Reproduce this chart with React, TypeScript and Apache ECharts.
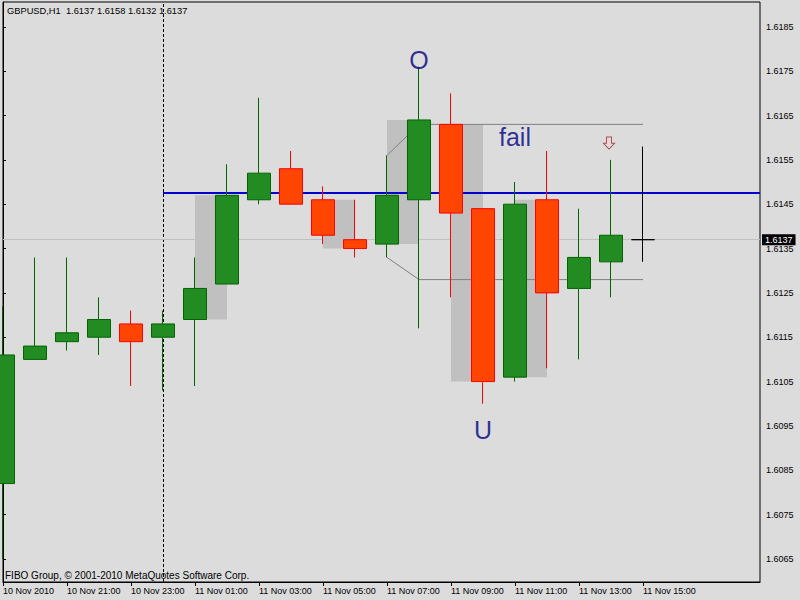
import React, { useEffect, useRef } from "react";
import * as echarts from "echarts";

// ---- Data (GBPUSD, H1, 10 Nov 19:00 .. 11 Nov 15:00) ----
const opens = [1.6082, 1.6110, 1.6114, 1.6115, 1.6118, 1.6115, 1.6119, 1.6127, 1.6146, 1.6153, 1.6146, 1.6137, 1.6136, 1.6146, 1.6163, 1.6144, 1.6106, 1.6146, 1.6126, 1.6132, 1.6137];
const highs = [1.6122, 1.6133, 1.6133, 1.6124, 1.6121, 1.6121, 1.6133, 1.6154, 1.6169, 1.6157, 1.6149, 1.6146, 1.6156, 1.6176, 1.6170, 1.6144, 1.6150, 1.6157, 1.6144, 1.6155, 1.6158];
const lows = [1.6065, 1.6110, 1.6112, 1.6111, 1.6104, 1.6103, 1.6104, 1.6127, 1.6145, 1.6145, 1.6136, 1.6133, 1.6133, 1.6117, 1.6124, 1.6100, 1.6105, 1.6108, 1.6110, 1.6124, 1.6132];
const closes = [1.6111, 1.6113, 1.6116, 1.6119, 1.6114, 1.6118, 1.6126, 1.6147, 1.6152, 1.6145, 1.6138, 1.6135, 1.6147, 1.6164, 1.6143, 1.6105, 1.6145, 1.6125, 1.6133, 1.6138, 1.6137];

// x tick positions (bar index) and labels
const xTickIndex = [0, 2, 4, 6, 8, 10, 12, 14, 16, 18, 20];
const xTickLabels = ["10 Nov 2010", "10 Nov 21:00", "10 Nov 23:00", "11 Nov 01:00", "11 Nov 03:00", "11 Nov 05:00", "11 Nov 07:00", "11 Nov 09:00", "11 Nov 11:00", "11 Nov 13:00", "11 Nov 15:00"];

// y tick labels
const yTicks = [1.6065, 1.6075, 1.6085, 1.6095, 1.6105, 1.6115, 1.6125, 1.6135, 1.6145, 1.6155, 1.6165, 1.6175, 1.6185];

// shaded zones: [fromIndex, toIndex, priceTop, priceBottom]
const zones = [
  [6, 7, 1.6147, 1.6119],
  [10, 11, 1.6146, 1.6135],
  [12, 13, 1.6164, 1.6136],
  [14, 15, 1.6163, 1.6105],
  [16, 17, 1.6146, 1.6106],
];

// channel lines: [index, price]
const upperLine = [[12, 1.6156], [13, 1.6163], [20, 1.6163]];
const lowerLine = [[12, 1.6133], [13, 1.6128], [20, 1.6128]];

const levelPrice = 1.61476; // blue horizontal line
const levelStart = 5;
const separatorIndex = 5; // day separator
const bidPrice = 1.6137;

const textNotes = [
  { text: "O", index: 13, price: 1.61776 },
  { text: "fail", index: 16, price: 1.61602 },
  { text: "U", index: 15, price: 1.60941 },
];
const arrowNote = { index: 19, price: 1.61588 };

const header = "GBPUSD,H1  1.6137 1.6158 1.6132 1.6137";
const footer = "FIBO Group, \u00A9 2001-2010 MetaQuotes Software Corp.";

const Y_MIN = 1.60598;
const Y_MAX = 1.61906;
const X_MAX = 757 / 32;

const FONT = '"Liberation Sans", Arial, sans-serif';

export default function App() {
  const ref = useRef<HTMLDivElement>(null);
  useEffect(() => {
    if (!ref.current) return;
    const chart = echarts.init(ref.current, undefined, { renderer: "svg" });
    const candleData = opens.map((o, i) => [i, o, closes[i], lows[i], highs[i]]);
    const option: any = {
      animation: false,
      backgroundColor: "#DCDCDC",
      textStyle: { fontFamily: FONT },
      grid: {
        left: 3,
        top: 2,
        right: 40,
        bottom: 18,
        show: true,
        borderColor: "#000",
        borderWidth: 1,
        backgroundColor: "transparent",
      },
      xAxis: {
        type: "value",
        min: 0,
        max: X_MAX,
        splitLine: { show: false },
        axisLine: { show: true, onZero: false, lineStyle: { color: "#000", width: 1 } },
        axisTick: { show: true, length: 4, customValues: xTickIndex, lineStyle: { color: "#000" } },
        axisLabel: {
          customValues: xTickIndex,
          formatter: (v: number) => {
            const k = xTickIndex.indexOf(Math.round(v));
            return k >= 0 ? xTickLabels[k] : "";
          },
          align: "left",
          margin: 4,
          fontSize: 9,
          color: "#000",
          fontFamily: FONT,
        },
      },
      yAxis: {
        type: "value",
        position: "right",
        min: Y_MIN,
        max: Y_MAX,
        scale: true,
        splitLine: { show: false },
        axisLine: { show: true, lineStyle: { color: "#000", width: 1 } },
        axisTick: { show: true, length: 3, customValues: yTicks, lineStyle: { color: "#000" } },
        axisLabel: {
          customValues: yTicks,
          formatter: (v: number) => v.toFixed(4),
          margin: 6,
          fontSize: 9,
          color: "#000",
          fontFamily: FONT,
        },
      },
      series: [
        {
          name: "zones",
          type: "line",
          data: [],
          z: 1,
          silent: true,
          markArea: {
            silent: true,
            itemStyle: { color: "#C0C0C0", opacity: 1 },
            data: zones.map((z) => [
              { coord: [z[0], z[2]] },
              { coord: [z[1], z[3]] },
            ]),
          },
        },
        {
          name: "levels",
          type: "line",
          data: [],
          z: 2,
          silent: true,
          markLine: {
            silent: true,
            precision: 6,
            symbol: ["none", "none"],
            animation: false,
            data: [
              {
                xAxis: separatorIndex,
                lineStyle: { color: "#000", width: 1, type: [3, 2] },
                label: { show: false },
              },
              {
                yAxis: bidPrice,
                lineStyle: { color: "#C0C0C0", width: 1, type: "solid" },
                label: {
                  show: true,
                  position: "end",
                  distance: 2,
                  formatter: () => bidPrice.toFixed(4),
                  color: "#fff",
                  backgroundColor: "#000",
                  padding: [1, 3, 1, 3],
                  fontSize: 9,
                  fontFamily: FONT,
                },
              },
            ],
          },
        },
        {
          name: "upper",
          type: "line",
          data: upperLine,
          z: 3,
          silent: true,
          symbol: "none",
          lineStyle: { color: "#808080", width: 1 },
        },
        {
          name: "lower",
          type: "line",
          data: lowerLine,
          z: 3,
          silent: true,
          symbol: "none",
          lineStyle: { color: "#808080", width: 1 },
        },
        {
          name: "GBPUSD",
          type: "candlestick",
          data: candleData,
          encode: { x: 0, y: [1, 2, 3, 4] },
          barWidth: 24,
          clip: true,
          z: 5,
          itemStyle: {
            color: "#228B22",
            color0: "#FF4500",
            borderColor: "#006400",
            borderColor0: "#FF0000",
            borderColorDoji: "#000000",
            borderWidth: 1,
          },
        },
        {
          name: "level",
          type: "line",
          data: [],
          z: 6,
          silent: true,
          markLine: {
            silent: true,
            precision: 6,
            symbol: ["none", "none"],
            label: { show: false },
            lineStyle: { color: "#0000CC", width: 2, type: "solid" },
            data: [
              [
                { coord: [levelStart, levelPrice] },
                { coord: [X_MAX, levelPrice] },
              ],
            ],
          },
        },
        {
          name: "notes",
          type: "scatter",
          z: 7,
          silent: true,
          symbolSize: 0,
          data: textNotes.map((n) => ({ value: [n.index, n.price], name: n.text })),
          label: {
            show: true,
            position: "inside",
            formatter: (p: any) => p.name,
            fontSize: 25,
            color: "#000080",
            fontFamily: FONT,
          },
        },
        {
          name: "arrow",
          type: "scatter",
          z: 7,
          silent: true,
          symbol: "path://M3 0 L8 0 L8 6 L11 6 L5.5 11.5 L0 6 L3 6 Z",
          symbolSize: [11, 12],
          symbolOffset: [-2, 0],
          data: [[arrowNote.index, arrowNote.price]],
          itemStyle: { color: "rgba(0,0,0,0)", borderColor: "#B22222", borderWidth: 1 },
        },
      ],
      graphic: [
        {
          type: "text",
          x: 7,
          y: 11,
          silent: true,
          style: { text: header, fill: "#000", fontSize: 9.3, fontFamily: FONT, verticalAlign: "middle" },
        },
        {
          type: "text",
          x: 5,
          y: 575,
          silent: true,
          style: { text: footer, fill: "#000", fontSize: 10, fontFamily: FONT, verticalAlign: "middle" },
        },
      ],
    };
    chart.setOption(option);
    return () => chart.dispose();
  }, []);
  return (
    <div
      ref={ref}
      style={{ position: "absolute", left: 0, top: 0, width: 800, height: 600, background: "#DCDCDC" }}
    />
  );
}
